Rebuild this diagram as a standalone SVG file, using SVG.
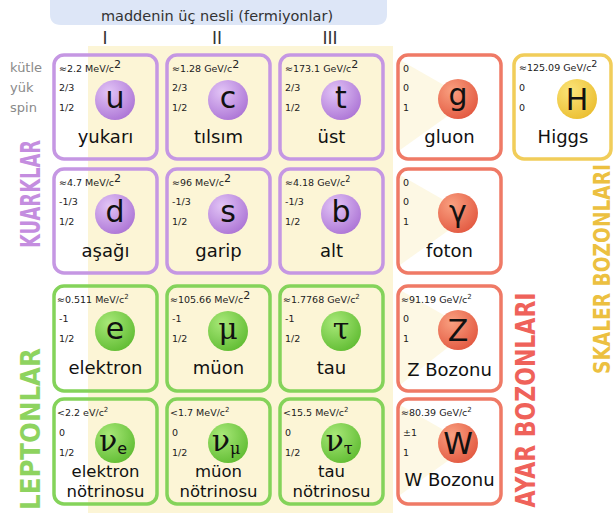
<svg xmlns="http://www.w3.org/2000/svg" width="614" height="513" viewBox="0 0 614 513">
<style>
.box{fill:none;stroke-width:3.5}
.q{stroke:#c597e3}.l{stroke:#84d35a}.g{stroke:#ef7a66}.h{stroke:#f1cd5a}
.sm{font-family:"DejaVu Sans",sans-serif;font-size:9.5px;fill:#222}
.nm{font-family:"DejaVu Sans",sans-serif;font-size:18px;fill:#111;text-anchor:middle}
.n2{font-family:"DejaVu Sans",sans-serif;font-size:16.5px;fill:#111;text-anchor:middle}
.sy{font-family:"DejaVu Sans",sans-serif;font-size:30px;fill:#111;text-anchor:middle}
.sg{font-family:"DejaVu Serif",serif;font-size:30px;fill:#111;text-anchor:middle}
.lab{font-family:"DejaVu Sans",sans-serif;font-size:13px;fill:#8a8a8a}
.gen{font-family:"DejaVu Sans",sans-serif;font-size:17px;fill:#333;text-anchor:middle}
.hdr{font-family:"DejaVu Sans",sans-serif;font-size:14.5px;fill:#333;text-anchor:middle}
.side{font-family:"DejaVu Sans",sans-serif;font-weight:bold;text-anchor:middle}
</style>
<defs>
<radialGradient id="gq" cx="0.35" cy="0.3" r="0.75"><stop offset="0" stop-color="#e2c4f6"/><stop offset="1" stop-color="#ad76d6"/></radialGradient>
<radialGradient id="gl" cx="0.35" cy="0.3" r="0.75"><stop offset="0" stop-color="#a8e878"/><stop offset="1" stop-color="#62bd34"/></radialGradient>
<radialGradient id="gg" cx="0.35" cy="0.3" r="0.75"><stop offset="0" stop-color="#f9a080"/><stop offset="1" stop-color="#e35a42"/></radialGradient>
<radialGradient id="gh" cx="0.35" cy="0.3" r="0.75"><stop offset="0" stop-color="#fbe47a"/><stop offset="1" stop-color="#ebbf32"/></radialGradient>
</defs>
<rect width="614" height="513" fill="#fff"/>
<!-- cream background -->
<path d="M88,46 H393 V513 H88 Z" fill="#fcf5d6"/>
<path d="M400,175 L470,215 L400,265 Z M400,290 L470,330 L400,385 Z M400,60 L470,100 L400,150 Z M400,405 L470,445 L400,495 Z" fill="#fdf8e4"/>
<!-- header -->
<path d="M50,0 H387 V14 Q387,25 376,25 H61 Q50,25 50,14 Z" fill="#dde6f7"/>
<text x="217" y="21" class="hdr">maddenin üç nesli (fermiyonlar)</text>
<text x="105" y="44" class="gen">I</text>
<text x="217" y="44" class="gen">II</text>
<text x="330" y="44" class="gen">III</text>
<text x="10" y="72" class="lab">kütle</text>
<text x="10" y="92" class="lab">yük</text>
<text x="10" y="112" class="lab">spin</text>

<g id="u"><rect class="box q" x="54" y="55" width="103" height="104" rx="10"/></g>
<g id="c"><rect class="box q" x="167" y="55" width="103" height="104" rx="10"/></g>
<g id="t"><rect class="box q" x="280" y="55" width="103" height="104" rx="10"/></g>
<g id="g"><rect class="box g" x="398" y="55" width="103" height="104" rx="10"/></g>
<g id="H"><rect class="box h" x="514" y="55" width="97" height="104" rx="10"/></g>
<g id="d"><rect class="box q" x="54" y="169" width="103" height="104" rx="10"/></g>
<g id="s"><rect class="box q" x="167" y="169" width="103" height="104" rx="10"/></g>
<g id="b"><rect class="box q" x="280" y="169" width="103" height="104" rx="10"/></g>
<g id="gamma"><rect class="box g" x="398" y="169" width="103" height="104" rx="10"/></g>
<g id="e"><rect class="box l" x="54" y="286" width="103" height="105" rx="10"/></g>
<g id="mu"><rect class="box l" x="167" y="286" width="103" height="105" rx="10"/></g>
<g id="tau"><rect class="box l" x="280" y="286" width="103" height="105" rx="10"/></g>
<g id="Z"><rect class="box g" x="398" y="286" width="103" height="105" rx="10"/></g>
<g id="ve"><rect class="box l" x="54" y="399" width="103" height="105" rx="10"/></g>
<g id="vmu"><rect class="box l" x="167" y="399" width="103" height="105" rx="10"/></g>
<g id="vtau"><rect class="box l" x="280" y="399" width="103" height="105" rx="10"/></g>
<g id="W"><rect class="box g" x="398" y="399" width="103" height="105" rx="10"/></g>

<g id="content">
<!-- row 1 -->
<circle cx="115" cy="100" r="20" fill="url(#gq)"/><text x="115" y="108" class="sy">u</text>
<text x="59" y="72" class="sm">≈2.2 MeV/c<tspan dy="-4" font-size="11">2</tspan></text>
<text x="59" y="91" class="sm">2/3</text><text x="59" y="111" class="sm">1/2</text>
<text x="105.5" y="143" class="nm">yukarı</text>

<circle cx="228" cy="100" r="20" fill="url(#gq)"/><text x="228" y="108" class="sy">c</text>
<text x="172" y="72" class="sm">≈1.28 GeV/c<tspan dy="-4" font-size="11">2</tspan></text>
<text x="172" y="91" class="sm">2/3</text><text x="172" y="111" class="sm">1/2</text>
<text x="218.5" y="143" class="nm">tılsım</text>

<circle cx="341" cy="100" r="20" fill="url(#gq)"/><text x="341" y="108" class="sy">t</text>
<text x="285" y="72" class="sm">≈173.1 GeV/c<tspan dy="-4" font-size="11">2</tspan></text>
<text x="285" y="91" class="sm">2/3</text><text x="285" y="111" class="sm">1/2</text>
<text x="331.5" y="143" class="nm">üst</text>

<circle cx="458" cy="99" r="20" fill="url(#gg)"/><text x="458" y="105" class="sy">g</text>
<text x="403" y="72" class="sm">0</text><text x="403" y="91" class="sm">0</text><text x="403" y="111" class="sm">1</text>
<text x="449.5" y="143" class="nm">gluon</text>

<circle cx="577" cy="99" r="20" fill="url(#gh)"/><text x="577" y="110" class="sy">H</text>
<text x="519" y="71" class="sm" font-size="9">≈125.09 GeV/c<tspan dy="-4">2</tspan></text>
<text x="519" y="91" class="sm">0</text><text x="519" y="111" class="sm">0</text>
<text x="563" y="143" class="nm">Higgs</text>

<!-- row 2 -->
<circle cx="115" cy="214" r="20" fill="url(#gq)"/><text x="115" y="222" class="sy">d</text>
<text x="59" y="186" class="sm">≈4.7 MeV/c<tspan dy="-4" font-size="11">2</tspan></text>
<text x="59" y="205" class="sm">-1/3</text><text x="59" y="225" class="sm">1/2</text>
<text x="105.5" y="257" class="nm">aşağı</text>

<circle cx="228" cy="214" r="20" fill="url(#gq)"/><text x="228" y="222" class="sy">s</text>
<text x="172" y="186" class="sm">≈96 MeV/c<tspan dy="-4" font-size="11">2</tspan></text>
<text x="172" y="205" class="sm">-1/3</text><text x="172" y="225" class="sm">1/2</text>
<text x="218.5" y="257" class="nm">garip</text>

<circle cx="341" cy="214" r="20" fill="url(#gq)"/><text x="341" y="222" class="sy">b</text>
<text x="285" y="186" class="sm">≈4.18 GeV/c<tspan dy="-4" font-size="8">2</tspan></text>
<text x="285" y="205" class="sm">-1/3</text><text x="285" y="225" class="sm">1/2</text>
<text x="331.5" y="257" class="nm">alt</text>

<circle cx="458" cy="213" r="20" fill="url(#gg)"/><text x="458" y="222" class="sy">γ</text>
<text x="403" y="186" class="sm">0</text><text x="403" y="205" class="sm">0</text><text x="403" y="225" class="sm">1</text>
<text x="449.5" y="257" class="nm">foton</text>

<!-- row 3 -->
<circle cx="115" cy="331" r="20" fill="url(#gl)"/><text x="115" y="339" class="sy">e</text>
<text x="57" y="303" class="sm" font-size="9">≈0.511 MeV/c<tspan dy="-4" font-size="7">2</tspan></text>
<text x="59" y="322" class="sm">-1</text><text x="59" y="342" class="sm">1/2</text>
<text x="105.5" y="374" class="nm">elektron</text>

<circle cx="228" cy="331" r="20" fill="url(#gl)"/><text x="228" y="339" class="sg">μ</text>
<text x="170" y="303" class="sm">≈105.66 MeV/c<tspan dy="-4" font-size="11">2</tspan></text>
<text x="172" y="322" class="sm">-1</text><text x="172" y="342" class="sm">1/2</text>
<text x="218.5" y="374" class="nm">müon</text>

<circle cx="341" cy="331" r="20" fill="url(#gl)"/><text x="341" y="339" class="sg">τ</text>
<text x="283" y="303" class="sm" font-size="9">≈1.7768 GeV/c<tspan dy="-4" font-size="7">2</tspan></text>
<text x="285" y="322" class="sm">-1</text><text x="285" y="342" class="sm">1/2</text>
<text x="331.5" y="374" class="nm">tau</text>

<circle cx="458" cy="330" r="20" fill="url(#gg)"/><text x="458" y="341" class="sy">Z</text>
<text x="401" y="303" class="sm" font-size="9">≈91.19 GeV/c<tspan dy="-4" font-size="7">2</tspan></text>
<text x="403" y="322" class="sm">0</text><text x="403" y="342" class="sm">1</text>
<text x="449.5" y="376" class="nm">Z Bozonu</text>

<!-- row 4 -->
<circle cx="115" cy="443" r="20" fill="url(#gl)"/><text x="113" y="451" class="sg">ν<tspan font-family="DejaVu Sans" font-size="16" dy="3">e</tspan></text>
<text x="57" y="416" class="sm" font-size="9">&lt;2.2 eV/c<tspan dy="-4" font-size="7">2</tspan></text>
<text x="59" y="436" class="sm">0</text><text x="59" y="456" class="sm">1/2</text>
<text x="105.5" y="477" class="n2">elektron</text><text x="105.5" y="497" class="n2">nötrinosu</text>

<circle cx="228" cy="443" r="20" fill="url(#gl)"/><text x="226" y="451" class="sg">ν<tspan font-size="16" dy="3">μ</tspan></text>
<text x="170" y="416" class="sm" font-size="9">&lt;1.7 MeV/c<tspan dy="-4" font-size="7">2</tspan></text>
<text x="172" y="436" class="sm">0</text><text x="172" y="456" class="sm">1/2</text>
<text x="218.5" y="477" class="n2">müon</text><text x="218.5" y="497" class="n2">nötrinosu</text>

<circle cx="341" cy="443" r="20" fill="url(#gl)"/><text x="339" y="451" class="sg">ν<tspan font-size="16" dy="3">τ</tspan></text>
<text x="283" y="416" class="sm" font-size="9">&lt;15.5 MeV/c<tspan dy="-4" font-size="7">2</tspan></text>
<text x="285" y="436" class="sm">0</text><text x="285" y="456" class="sm">1/2</text>
<text x="331.5" y="477" class="n2">tau</text><text x="331.5" y="497" class="n2">nötrinosu</text>

<circle cx="458" cy="443" r="20" fill="url(#gg)"/><text x="458" y="454" class="sy">W</text>
<text x="401" y="416" class="sm" font-size="9">≈80.39 GeV/c<tspan dy="-4" font-size="7">2</tspan></text>
<text x="403" y="436" class="sm">±1</text><text x="403" y="456" class="sm">1</text>
<text x="449.5" y="486" class="nm">W Bozonu</text>
</g>

<!-- side labels -->
<text class="side" transform="translate(40,194) rotate(-90)" font-size="27" fill="#c48ddf" textLength="108" lengthAdjust="spacingAndGlyphs">KUARKLAR</text>
<text class="side" transform="translate(40,429) rotate(-90)" font-size="27" fill="#8ed35f" textLength="162" lengthAdjust="spacingAndGlyphs">LEPTONLAR</text>
<text class="side" transform="translate(535,400) rotate(-90)" font-size="27" fill="#ef625a" textLength="215" lengthAdjust="spacingAndGlyphs">AYAR BOZONLARI</text>
<text class="side" transform="translate(610,269) rotate(-90)" font-size="23" fill="#ecc040" textLength="210" lengthAdjust="spacingAndGlyphs">SKALER BOZONLARI</text>
</svg>
